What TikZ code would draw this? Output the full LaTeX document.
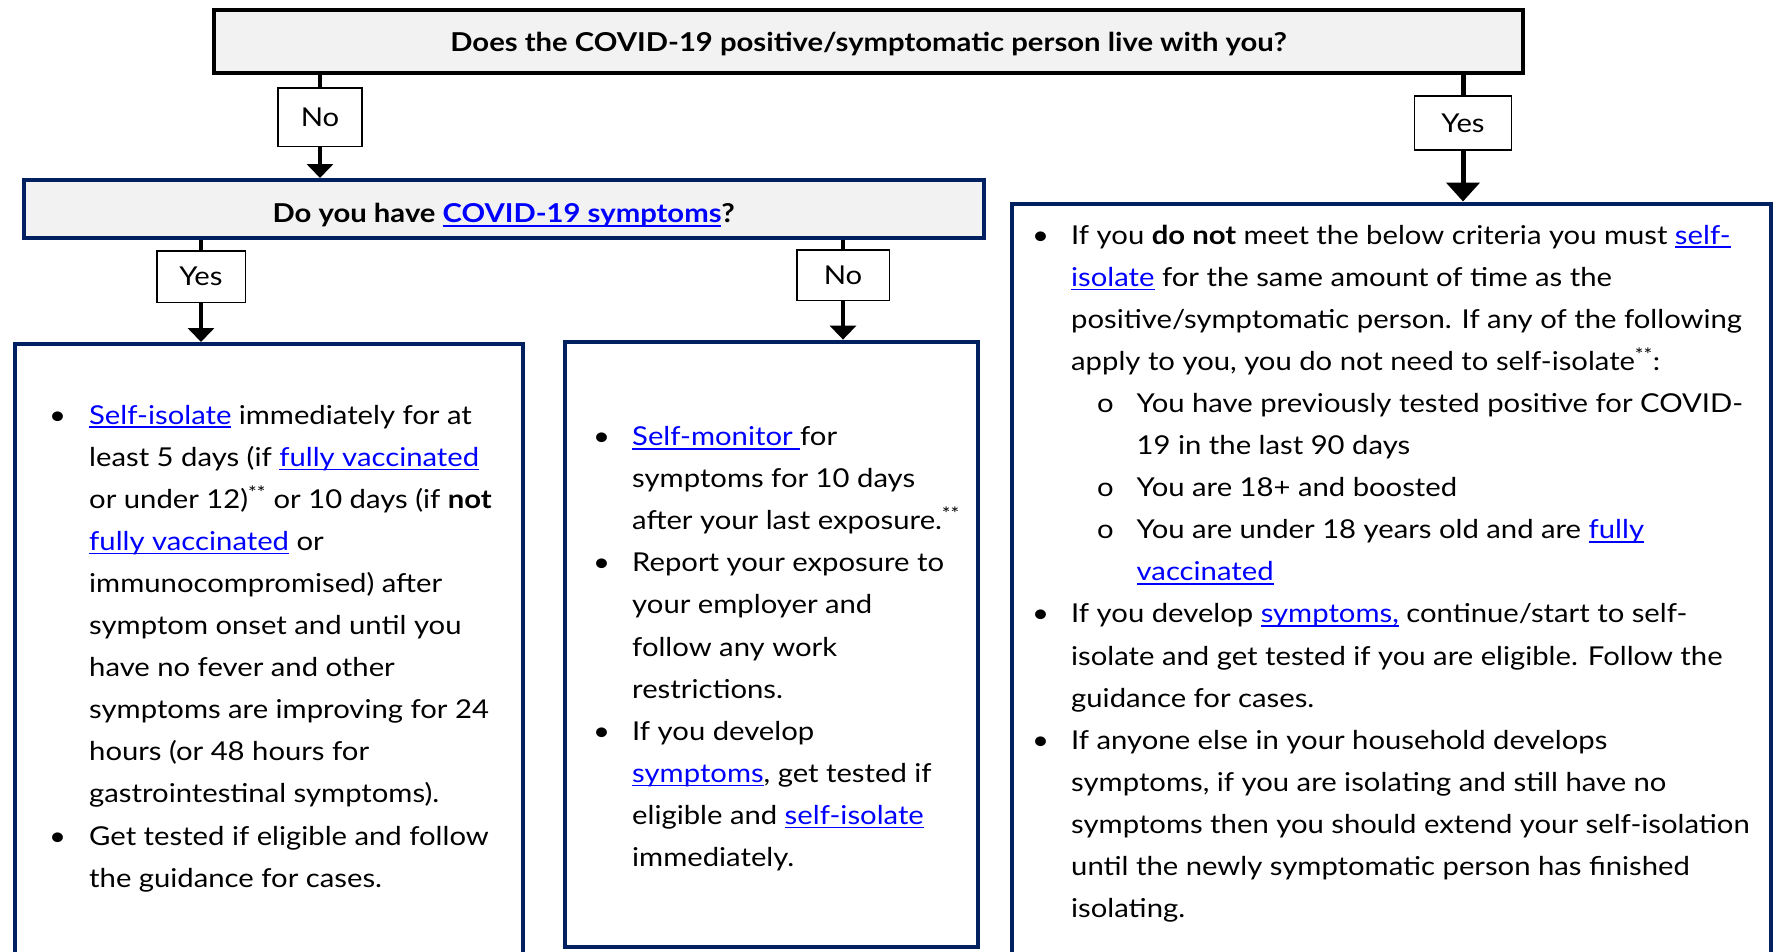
\documentclass[tikz,border=0pt]{standalone}
\usepackage{fontspec}
\setmainfont{Lato}[FakeStretch=1.125]
\usepackage{xcolor}
\usetikzlibrary{
	arrows.meta,
	calc,
	positioning
}
\definecolor{navyline}{RGB}{0,32,96}
\definecolor{boxgray}{RGB}{242,242,242}
\definecolor{linkblue}{RGB}{0,0,255}

% underlined link text
\newcommand{\lnk}[1]{{\color{linkblue}\setbox0\hbox{#1}\rlap{\rule[-4pt]{\wd0}{1.6pt}}\box0}}
\newcommand{\BodyFont}{\fontsize{26}{42.1}\selectfont}

\begin{document}
\begin{tikzpicture}
	[x=1pt, y=-1pt,
	question/.style={draw=black, line width=4pt, fill=boxgray, inner sep=0pt,
		anchor=north west, font=\BodyFont\bfseries},
	subquestion/.style={question, draw=navyline},
	answer/.style={draw=black, line width=1.5pt, fill=white, inner sep=0pt,
		font=\BodyFont},
	infobox/.style={draw=navyline, line width=4pt, fill=white, anchor=north west},
	listtext/.style={inner sep=0pt, anchor=base west, font=\BodyFont},
	stem/.style={line width=4pt},
	flow/.style={line width=4pt, -{Triangle[width=26pt,length=14pt]}}]

	\useasboundingbox (0,0) rectangle (1775,951);
	\clip (0,0) rectangle (1775,951);

	% questions
	\begin{scope}
		\node[question, minimum width=1309pt, minimum height=63pt,
			text height=20pt, text depth=0pt] (live) at (212,8)
			{Does the COVID-19 positive/symptomatic person live with you?};
		\node[subquestion, minimum width=960.5pt, minimum height=58pt,
			text height=27pt, text depth=0pt] (symp) at (21.5,178)
			{Do you have \lnk{COVID-19 symptoms}?};
	\end{scope}

	% answer boxes
	\begin{scope}
		\node[infobox, minimum width=508.5pt, minimum height=700pt] (isolate) at (12.5,342) {};
		\node[infobox, minimum width=413.7pt, minimum height=605pt] (monitor) at (562.6,339.6) {};
		\node[infobox, minimum width=759pt, minimum height=800pt] (household) at (1009.7,201.5) {};
	\end{scope}

	% yes/no labels
	\begin{scope}
		\node[answer, minimum width=84pt, minimum height=58.5pt] (liveno) at (320,117) {No};
		\node[answer, minimum width=97pt, minimum height=54pt] (liveyes) at (1463,123) {Yes};
		\node[answer, minimum width=88.5pt, minimum height=51.5pt] (sympyes) at (201,276.5) {Yes};
		\node[answer, minimum width=92.5pt, minimum height=50.5pt] (sympno) at (843,275) {No};
	\end{scope}

	% connectors
	\begin{scope}
		\draw[stem] (live.south -| liveno) -- (liveno.north);
		\draw[flow] (liveno.south) -- (symp.north -| liveno);
		\draw[stem, line width=5pt] (live.south -| liveyes) -- (liveyes.north);
		\draw[flow, line width=5pt, -{Triangle[width=33pt,length=19pt]}]
			(liveyes.south) -- (household.north -| liveyes);
		\draw[stem] (symp.south -| sympyes) -- (sympyes.north);
		\draw[flow] (sympyes.south) -- (isolate.north -| sympyes);
		\draw[stem] (symp.south -| sympno) -- (sympno.north);
		\draw[flow] (sympno.south) -- (monitor.north -| sympno);
	\end{scope}

	% box texts
	\begin{scope}
		\node[listtext] (isolatetext) at (49,424) {%
			\begin{tabular}[t]{@{}p{40pt}@{}l@{}}
				\textbullet & \lnk{Self-isolate} immediately for at\\
				& least 5 days (if \lnk{fully vaccinated}\\
				& or under 12)\textsuperscript{**} or 10 days (if \textbf{not}\\
				& \lnk{fully vaccinated} or\\
				& immunocompromised) after\\
				& symptom onset and until you\\
				& have no fever and other\\
				& symptoms are improving for 24\\
				& hours (or 48 hours for\\
				& gastrointestinal symptoms).\\
				\textbullet & Get tested if eligible and follow\\
				& the guidance for cases.
			\end{tabular}};

		\node[listtext] (monitortext) at (593,445.5) {%
			\begin{tabular}[t]{@{}p{39pt}@{}l@{}}
				\textbullet & \lnk{Self-monitor\ }for\\
				& symptoms for 10 days\\
				& after your last exposure.\textsuperscript{**}\\
				\textbullet & Report your exposure to\\
				& your employer and\\
				& follow any work\\
				& restrictions.\\
				\textbullet & If you develop\\
				& \lnk{symptoms}, get tested if\\
				& eligible and \lnk{self-isolate}\\
				& immediately.
			\end{tabular}};

		\node[listtext] (householdtext) at (1032,244) {%
			\begin{tabular}[t]{@{}p{39pt}@{}p{65.5pt}@{}l@{}}
				\textbullet & \multicolumn{2}{@{}l@{}}{If you \textbf{do not} meet the below criteria you must \lnk{self-}}\\
				& \multicolumn{2}{@{}l@{}}{\lnk{isolate} for the same amount of time as the}\\
				& \multicolumn{2}{@{}l@{}}{positive/symptomatic person. If any of the following}\\
				& \multicolumn{2}{@{}l@{}}{apply to you, you do not need to self-isolate\textsuperscript{**}:}\\
				& \hspace*{26pt}o & You have previously tested positive for COVID-\\
				& & 19 in the last 90 days\\
				& \hspace*{26pt}o & You are 18+ and boosted\\
				& \hspace*{26pt}o & You are under 18 years old and are \lnk{fully}\\
				& & \lnk{vaccinated}\\
				\textbullet & \multicolumn{2}{@{}l@{}}{If you develop \lnk{symptoms,} continue/start to self-}\\
				& \multicolumn{2}{@{}l@{}}{isolate and get tested if you are eligible. Follow the}\\
				& \multicolumn{2}{@{}l@{}}{guidance for cases.}\\
				\textbullet & \multicolumn{2}{@{}l@{}}{If anyone else in your household develops}\\
				& \multicolumn{2}{@{}l@{}}{symptoms, if you are isolating and still have no}\\
				& \multicolumn{2}{@{}l@{}}{symptoms then you should extend your self-isolation}\\
				& \multicolumn{2}{@{}l@{}}{until the newly symptomatic person has finished}\\
				& \multicolumn{2}{@{}l@{}}{isolating.}
			\end{tabular}};
	\end{scope}

\end{tikzpicture}
\end{document}
